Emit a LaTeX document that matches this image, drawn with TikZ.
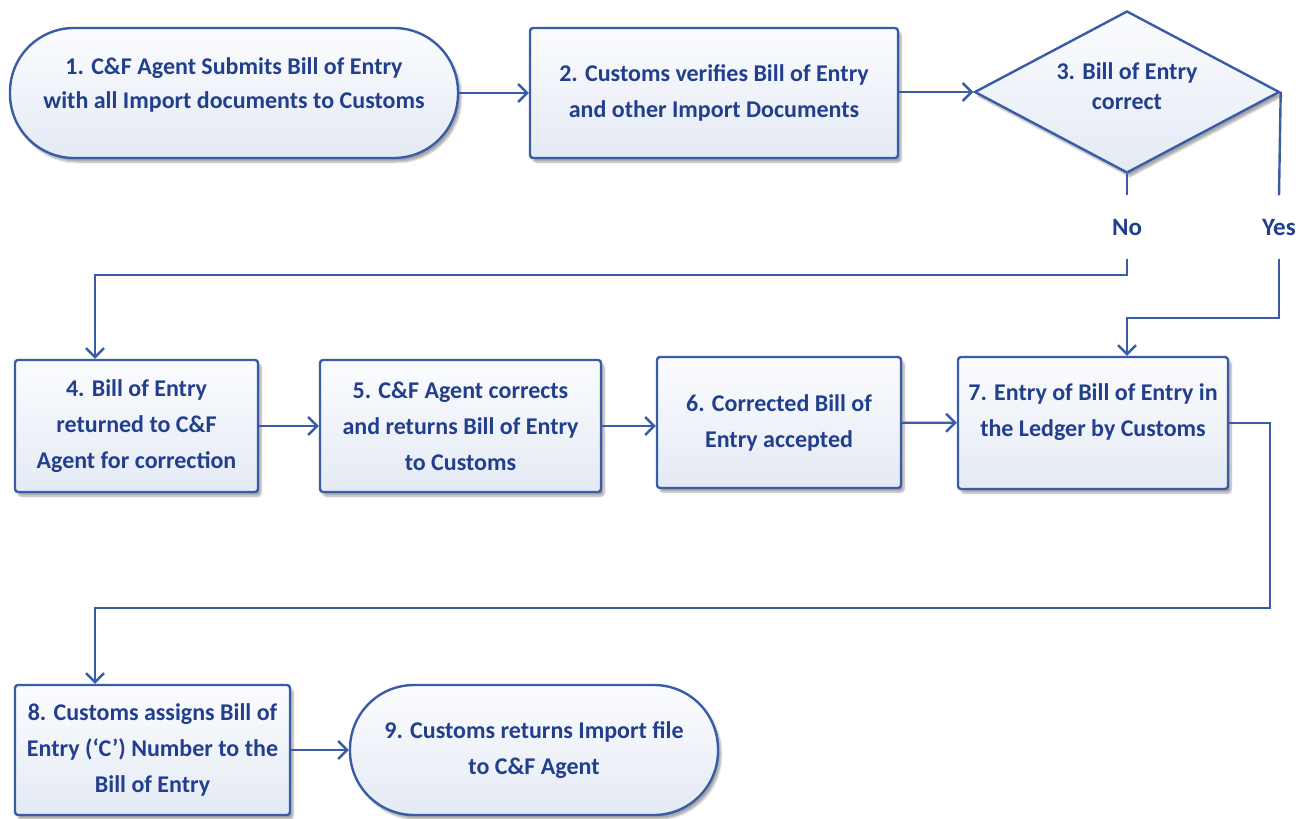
\documentclass[tikz,border=0pt]{standalone}
\usepackage{fontspec}
\setmainfont{Carlito}
\usetikzlibrary{arrows.meta,shapes.geometric,shadows.blur}
\definecolor{linec}{RGB}{58,92,168}
\definecolor{textc}{RGB}{33,63,140}
\definecolor{filltop}{RGB}{251,252,254}
\definecolor{fillbot}{RGB}{228,234,244}
\tikzset{
  base/.style={draw=linec, line width=2.4pt, top color=filltop, bottom color=fillbot,
    text=textc, font=\fontsize{24}{36}\selectfont\bfseries, align=center, inner sep=0pt,
    blur shadow={shadow xshift=3pt, shadow yshift=-4pt, shadow opacity=35, shadow blur steps=6}},
  box/.style={base, rectangle, rounded corners=3pt},
  term/.style={base, rectangle, rounded corners=64pt},
  decide/.style={base, diamond, shape aspect=2, font=\fontsize{24}{30}\selectfont\bfseries},
  tag/.style={text=textc, font=\fontsize{25}{28}\selectfont\bfseries, inner sep=0pt, minimum height=63pt},
  wire/.style={draw=linec, line width=2.4pt},
  conn/.style={wire, -{Straight Barb[length=9pt,width=18pt,line width=2.4pt]}}
}
\begin{document}
\begin{tikzpicture}[x=1pt, y=-1pt]
  \useasboundingbox (0,0) rectangle (1312,819);

  % first row
  \node[term, minimum width=448pt, minimum height=130pt] (n1) at (234,93)
    {1. C\&F Agent Submits Bill of Entry\\[-2pt]with all Import documents to Customs\\[-16pt]\mbox{}};
  \node[box, minimum width=368pt, minimum height=130pt] (n2) at (714,93)
    {2. Customs verifies Bill of Entry\\and other Import Documents};
  \node[decide, minimum width=305pt, minimum height=162pt] (d3) at (1127,92)
    {3. Bill of Entry\\correct\\[-18pt]\mbox{}};

  % decision labels
  \node[tag] (no) at (1127,227) {No};
  \node[tag] (yes) at (1279,227) {Yes};

  % second row
  \node[box, minimum width=243pt, minimum height=132pt] (n4) at (136.5,426)
    {4. Bill of Entry\\returned to C\&F\\Agent for correction};
  \node[box, minimum width=281pt, minimum height=132pt] (n5) at (460.5,426)
    {5. C\&F Agent corrects\\and returns Bill of Entry\\to Customs};
  \node[box, minimum width=244pt, minimum height=131pt] (n6) at (779,422.5)
    {6. Corrected Bill of\\Entry accepted};
  \node[box, minimum width=270pt, minimum height=132pt] (n7) at (1093,423)
    {7. Entry of Bill of Entry in\\the Ledger by Customs\\[-10pt]\mbox{}};

  % third row
  \node[box, minimum width=275pt, minimum height=130pt] (n8) at (152.5,750)
    {8. Customs assigns Bill of\\Entry (‘C’) Number to the\\Bill of Entry};
  \node[term, minimum width=368pt, minimum height=130pt] (n9) at (534,750)
    {9. Customs returns Import file\\to C\&F Agent};

  % routing points
  \coordinate (jno) at (1127,275);
  \coordinate (jyes) at (1279,318);
  \coordinate (r7) at (1270,423);
  \coordinate (j7) at (1270,608);

  % connectors
  \draw[conn] (n1) -- (n2);
  \draw[conn] (n2.east |- d3.west) -- (d3.west);
  \draw[wire] (d3.south) -- (no.north);
  \draw[conn] (no.south) -- (jno) -| ([xshift=-41.5pt]n4.north);
  \draw[wire] (d3.east) -- (yes.north);
  \draw[conn] (yes.south) -- (jyes) -| ([xshift=34pt]n7.north);
  \draw[conn] (n4) -- (n5);
  \draw[conn] (n5.east) -- (n5.east -| n6.west);
  \draw[conn] (n6) -- (n7);
  \draw[conn] (n7.east) -- (r7) -- (j7) -| ([xshift=-57.5pt]n8.north);
  \draw[conn] (n8) -- (n9);
\end{tikzpicture}
\end{document}
